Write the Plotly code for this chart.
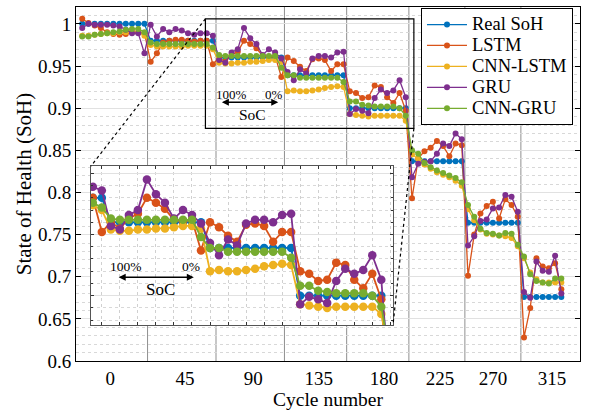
import numpy as np
import plotly.graph_objects as go

# ---- data -------------------------------------------------------------
cycles = [0, 45, 90, 135, 180, 225, 270, 315]
seg_len = [11, 11, 11, 10, 10, 9, 9, 7]          # SoC samples per cycle
tick_pos = [5.5, 17.5, 28.5, 39.0, 49.5, 58.5, 67.0, 76.5]

real_per_cycle = [1.000, 0.980, 0.960, 0.939, 0.900, 0.837, 0.764, 0.676]

lstm = [1.006, 1.001, 0.998, 0.995, 0.990, 0.988, 0.987, 0.988, 0.990, 0.990, 0.989,
        0.955, 0.965, 0.978, 0.980, 0.981, 0.981, 0.980, 0.979, 0.980, 0.980, 0.952,
        0.960, 0.955, 0.963, 0.967, 0.980, 0.976, 0.971, 0.962, 0.961, 0.962, 0.937,
        0.960, 0.956, 0.949, 0.944, 0.958, 0.959, 0.957, 0.944, 0.952, 0.952,
        0.920, 0.918, 0.912, 0.913, 0.927, 0.925, 0.913, 0.906, 0.918, 0.897,
        0.793, 0.840, 0.849, 0.853, 0.861, 0.855, 0.843, 0.858, 0.856,
        0.701, 0.750, 0.775, 0.784, 0.789, 0.769, 0.792, 0.785, 0.771,
        0.628, 0.663, 0.722, 0.712, 0.710, 0.716, 0.685]

cnn_lstm = [0.986, 0.986, 0.987, 0.988, 0.989, 0.989, 0.990, 0.990, 0.991, 0.990, 0.986,
            0.975, 0.973, 0.973, 0.973, 0.973, 0.973, 0.974, 0.974, 0.974, 0.974, 0.970,
            0.954, 0.953, 0.953, 0.954, 0.954, 0.955, 0.955, 0.956, 0.957, 0.957, 0.955,
            0.920, 0.921, 0.920, 0.920, 0.921, 0.922, 0.924, 0.925, 0.926, 0.925,
            0.893, 0.892, 0.891, 0.890, 0.891, 0.891, 0.891, 0.891, 0.891, 0.885,
            0.845, 0.840, 0.833, 0.828, 0.824, 0.821, 0.818, 0.814, 0.808,
            0.780, 0.767, 0.756, 0.751, 0.750, 0.749, 0.748, 0.746, 0.736,
            0.722, 0.705, 0.697, 0.693, 0.693, 0.693, 0.693]

gru = [0.995, 1.000, 0.999, 0.999, 0.999, 0.998, 0.997, 0.993, 0.989, 0.989, 0.965,
       0.999, 0.985, 0.994, 0.990, 0.994, 0.992, 0.989, 0.987, 0.989, 0.989, 0.986,
       0.957, 0.954, 0.966, 0.970, 0.995, 0.983, 0.976, 0.963, 0.970, 0.966, 0.959,
       0.943, 0.933, 0.946, 0.941, 0.959, 0.962, 0.962, 0.960, 0.966, 0.967,
       0.893, 0.899, 0.897, 0.894, 0.912, 0.922, 0.918, 0.921, 0.933, 0.913,
       0.818, 0.834, 0.836, 0.837, 0.846, 0.858, 0.855, 0.870, 0.863,
       0.737, 0.748, 0.766, 0.768, 0.781, 0.782, 0.797, 0.795, 0.777,
       0.682, 0.675, 0.718, 0.707, 0.706, 0.725, 0.680]

cnn_gru = [0.985, 0.985, 0.987, 0.988, 0.989, 0.990, 0.991, 0.993, 0.994, 0.994, 0.990,
           0.978, 0.976, 0.976, 0.976, 0.976, 0.976, 0.976, 0.976, 0.976, 0.976, 0.972,
           0.963, 0.962, 0.962, 0.962, 0.962, 0.962, 0.962, 0.962, 0.962, 0.962, 0.948,
           0.939, 0.939, 0.936, 0.936, 0.936, 0.936, 0.936, 0.936, 0.936, 0.931,
           0.908, 0.908, 0.904, 0.903, 0.902, 0.902, 0.902, 0.902, 0.900, 0.891,
           0.850, 0.846, 0.835, 0.830, 0.826, 0.823, 0.820, 0.817, 0.812,
           0.785, 0.771, 0.757, 0.752, 0.751, 0.749, 0.752, 0.751, 0.738,
           0.724, 0.703, 0.695, 0.693, 0.692, 0.698, 0.698]

# ---- derived ----------------------------------------------------------
n = sum(seg_len)
x = np.arange(1, n + 1)
real_soh = np.repeat(real_per_cycle, seg_len)
bounds = np.cumsum(seg_len)[:-1] + 0.5          # cycle separators

series = [
    ("Real SoH", real_soh, "#0072BD"),
    ("LSTM", lstm, "#D95319"),
    ("CNN-LSTM", cnn_lstm, "#EDB120"),
    ("GRU", gru, "#7E2F8E"),
    ("CNN-GRU", cnn_gru, "#77AC30"),
]

XR = [0, 81]
YR = [0.6, 1.02]
ZX = [20.8, 54.3]          # zoomed window
ZY = [0.876, 1.006]
INSET_X = [0.0298, 0.629]
INSET_Y = [0.1017, 0.5508]

FONT = "Liberation Serif"

fig = go.Figure()
for name, y, c in series:
    fig.add_trace(go.Scatter(x=x, y=y, mode="lines+markers",
                             name=f"<span style='font-size:18.5px'>{name}</span>",
                             line=dict(color=c, width=1.3),
                             marker=dict(color=c, size=6),
                             xaxis="x", yaxis="y"))
for name, y, c in series:
    fig.add_trace(go.Scatter(x=x, y=y, name=name, mode="lines+markers",
                             line=dict(color=c, width=1.8),
                             marker=dict(color=c, size=8.5),
                             xaxis="x2", yaxis="y2", showlegend=False))

shapes = []
for b in bounds:
    shapes.append(dict(type="line", xref="x", yref="y domain", x0=b, x1=b, y0=0, y1=1,
                       line=dict(color="#8f8f8f", width=1), layer="below"))
    if ZX[0] < b < ZX[1]:
        shapes.append(dict(type="line", xref="x2", yref="y2 domain", x0=b, x1=b, y0=0, y1=1,
                           line=dict(color="#b4b4b4", width=2), layer="below"))

# zoom window on the main axes
shapes.append(dict(type="rect", xref="x", yref="y", x0=ZX[0], x1=ZX[1], y0=ZY[0], y1=ZY[1],
                   line=dict(color="black", width=1.2), layer="above"))


def px(v):
    return (v - XR[0]) / (XR[1] - XR[0])


def py(v):
    return (v - YR[0]) / (YR[1] - YR[0])


shapes.append(dict(type="line", xref="paper", yref="paper",
                   x0=px(ZX[0]), y0=py(ZY[1]), x1=INSET_X[0], y1=INSET_Y[1],
                   line=dict(color="black", width=1.2, dash="dot")))
shapes.append(dict(type="line", xref="paper", yref="paper",
                   x0=px(ZX[1]), y0=py(ZY[0]), x1=INSET_X[1], y1=INSET_Y[0],
                   line=dict(color="black", width=1.2, dash="dot")))

annotations = []


def soc_marker(xr, yr, x100, x0, ytxt, xa, xb, yarr, xs, ys, fs_small, fs_big):
    annotations.extend([
        dict(xref=xr, yref=yr, x=x100, y=ytxt, text="100%", showarrow=False,
             font=dict(size=fs_small, family=FONT, color="black")),
        dict(xref=xr, yref=yr, x=x0, y=ytxt, text="0%", showarrow=False,
             font=dict(size=fs_small, family=FONT, color="black")),
        dict(xref=xr, yref=yr, x=xs, y=ys, text="SoC", showarrow=False,
             font=dict(size=fs_big, family=FONT, color="black")),
        dict(xref=xr, yref=yr, axref=xr, ayref=yr, x=xb, y=yarr, ax=xa, ay=yarr,
             text="", showarrow=True, arrowhead=2, arrowside="end+start",
             arrowsize=1, arrowwidth=1.4, arrowcolor="black"),
    ])


soc_marker("x", "y", 25.0, 31.8, 0.916, 23.2, 32.5, 0.907, 28.3, 0.892, 13, 15.5)
soc_marker("x2", "y2", 24.7, 31.9, 0.924, 23.7, 32.2, 0.915, 28.5, 0.905, 13.5, 17)

fig.update_layout(
    width=590, height=412,
    margin=dict(l=76, r=10, t=7, b=51),
    paper_bgcolor="white", plot_bgcolor="white",
    font=dict(family=FONT, size=19, color="black"),
    showlegend=True,
    legend=dict(x=0.6845, y=0.997, xanchor="left", yanchor="top",
                bgcolor="white", bordercolor="black", borderwidth=1,
                font=dict(size=13.8, family=FONT), tracegroupgap=0,
                itemwidth=40),
    shapes=shapes,
    annotations=annotations,
    xaxis=dict(range=XR, tickmode="array", tickvals=tick_pos,
               ticktext=[str(c) for c in cycles], showgrid=False, zeroline=False,
               showline=True, linecolor="black", linewidth=1, mirror=True,
               ticks="", automargin=False,
               title=dict(text="Cycle number", standoff=3,
                          font=dict(size=19.5, family=FONT)),
               tickfont=dict(size=19)),
    yaxis=dict(range=YR, dtick=0.05, tick0=0.6, showgrid=True, gridcolor="#e1e1e1",
               gridwidth=1, zeroline=False, showline=True, linecolor="black",
               linewidth=1, mirror="ticks", ticks="inside", ticklen=5, tickcolor="black",
               automargin=False,
               minor=dict(dtick=0.01, showgrid=True, gridcolor="#d8d8d8", griddash="dot"),
               title=dict(text="State of Health (SoH)", standoff=0,
                          font=dict(size=21, family=FONT)),
               tickfont=dict(size=19)),
    xaxis2=dict(domain=INSET_X, anchor="y2", range=ZX, dtick=2, tick0=0,
                showticklabels=False, showgrid=True, gridcolor="#d0d0d0", griddash="dot",
                zeroline=False, showline=True, linecolor="#555555", linewidth=1,
                mirror="ticks", ticks="inside", ticklen=3, tickcolor="#333333"),
    yaxis2=dict(domain=INSET_Y, anchor="x2", range=ZY, dtick=0.05, tick0=0.6,
                showticklabels=False, showgrid=True, gridcolor="#e1e1e1",
                zeroline=False, showline=True, linecolor="#555555", linewidth=1,
                mirror="ticks", ticks="inside", ticklen=3, tickcolor="#333333",
                minor=dict(dtick=0.01, showgrid=True, gridcolor="#d8d8d8", griddash="dot",
                           ticks="inside", ticklen=2)),
)

fig.write_html("out.html")
